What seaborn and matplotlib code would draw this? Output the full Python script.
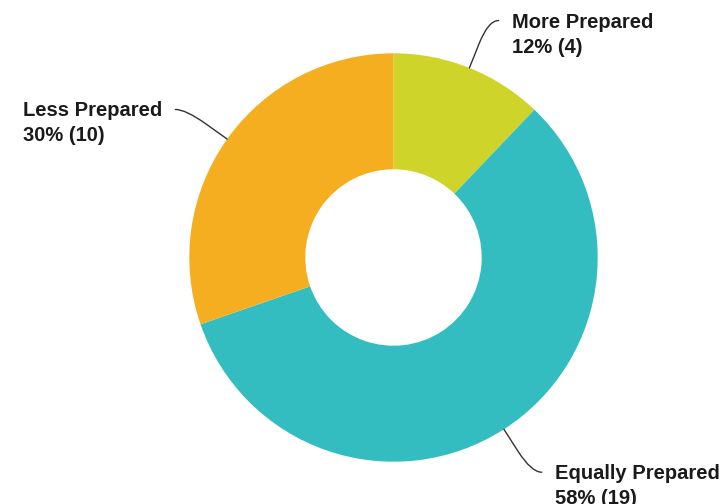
import numpy as np
import matplotlib
matplotlib.use("Agg")
import matplotlib.pyplot as plt
from matplotlib.path import Path
from matplotlib.patches import PathPatch
import seaborn as sns

# Survey responses
categories = ["More Prepared", "Equally Prepared", "Less Prepared"]
counts = [4, 19, 10]
slice_colors = ["#CED42A", "#34BDC0", "#F6AE21"]

sns.set_theme(style="white")
plt.rcParams["font.family"] = ["Liberation Sans", "DejaVu Sans"]

palette = sns.color_palette(slice_colors)

fig = plt.figure(figsize=(7.21, 5.04), dpi=100)
ax = fig.add_axes([0, 0, 1, 1])

total = sum(counts)
inner_ratio = 0.432
wedges, _ = ax.pie(
    counts,
    colors=palette,
    startangle=90,
    counterclock=False,
    radius=1.0,
    wedgeprops=dict(width=1 - inner_ratio, edgecolor="none", linewidth=0),
)

# Axes limits chosen so that one data unit equals the same number of pixels on both axes
px_per_unit = 204.2
cx, cy = 393.5, 257.5
W, H = 721, 504
ax.set_aspect("auto")
ax.set_xlim(-cx / px_per_unit, (W - cx) / px_per_unit)
ax.set_ylim(-(H - cy) / px_per_unit, cy / px_per_unit)
ax.axis("off")

line_color = "#333333"
text_color = "#1a1a1a"
fs = 14.5
cap_half = 7.0 / px_per_unit
line_gap = 25.0 / px_per_unit
renderer = fig.canvas.get_renderer()

for wedge, name, n in zip(wedges, categories, counts):
    theta = np.deg2rad((wedge.theta1 + wedge.theta2) / 2)
    u = np.array([np.cos(theta), np.sin(theta)])
    side = 1 if u[0] >= 0 else -1
    edge = u * 1.0
    start_bend = u * 1.13
    knee = u * 1.25
    end = knee + np.array([side * 0.05, 0.0])
    path = Path(
        [edge, start_bend, knee, end],
        [Path.MOVETO, Path.LINETO, Path.CURVE3, Path.CURVE3],
    )
    ax.add_patch(PathPatch(path, facecolor="none", edgecolor=line_color,
                           linewidth=1.0, capstyle="round"))

    tx = end[0] + side * 0.065
    ha = "left" if side > 0 else "right"
    pct = int(round(100 * n / total))
    name_txt = ax.text(tx, end[1] - cap_half, name, ha=ha, va="baseline",
                       fontsize=fs, fontweight="bold", color=text_color)
    # both lines of a label share the same left edge
    bbox = name_txt.get_window_extent(renderer)
    left_x = ax.transData.inverted().transform((bbox.x0, 0))[0]
    ax.text(left_x, end[1] - cap_half - line_gap, f"{pct}% ({n})", ha="left",
            va="baseline", fontsize=fs, fontweight="bold", color=text_color)

fig.savefig("out.png", dpi=100, facecolor="white")
